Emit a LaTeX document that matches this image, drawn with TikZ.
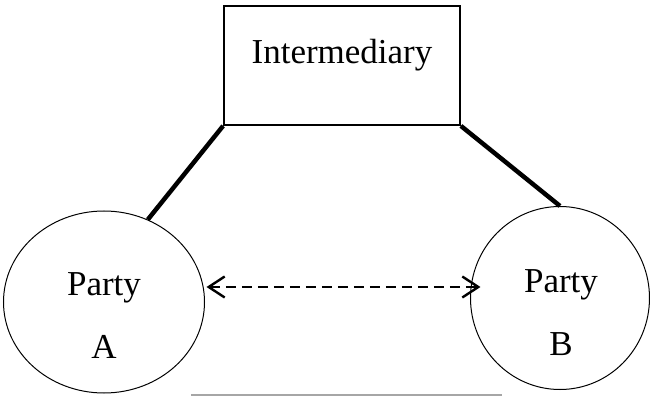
\documentclass[tikz,border=0pt]{standalone}
\usepackage{fontspec}
\setmainfont{Liberation Serif}
\usetikzlibrary{shapes.geometric,arrows.meta}
\usetikzlibrary{positioning}
\tikzstyle{link} = [draw, line width=2.25pt]
\tikzstyle{twoway} = [draw, line width=1.2pt, dash pattern=on 5pt off 3pt,
{Straight Barb[length=8pt,width=10.5pt,line width=1.2pt]}-{Straight Barb[length=8pt,width=10.5pt,line width=1.2pt]}]

\begin{document}
\begin{tikzpicture}[x=0.5pt, y=-0.5pt,
		box/.style={draw, rectangle, line width=0.9pt,
			minimum width=118pt, minimum height=59.5pt, inner sep=0pt},
		party/.style={draw, ellipse, line width=0.5pt, inner sep=0pt},
		lbl/.style={font=\fontsize{17.5}{31.5}\selectfont, align=center, inner sep=0pt}]
		\useasboundingbox (0,0) rectangle (650,396);
		\node [box] (inter) at (342,65.5) {};
		\node [lbl] (intertxt) at (342,55) {Intermediary};
		\node [party, minimum width=100.5pt, minimum height=91pt] (partyA) at (104,302) {};
		\node [lbl] (txtA) at (104,316) {Party\\A};
		\node [party, minimum width=89.5pt, minimum height=91.5pt] (partyB) at (560,298) {};
		\node [lbl] (txtB) at (561,313) {Party\\B};
		%% Links
		\path [link] (inter.south west) to (partyA.62);
		\path [link] (inter.south east) to (partyB.north);
		\path [twoway] ([shift={(1.5,-15)}]partyA.east) to ([shift={(10.5,-11)}]partyB.west);
		\draw [gray!70, line width=0.8pt] (191,395) -- (502,395);
\end{tikzpicture}
\end{document}
